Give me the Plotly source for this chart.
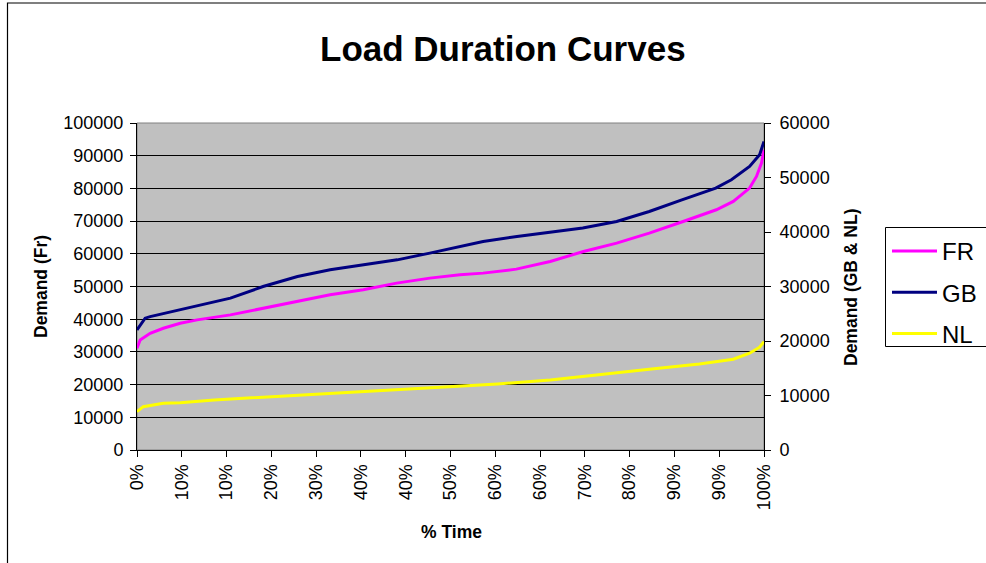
import plotly.graph_objects as go

# ---- data ----
tick_pos = [i * 100 / 14 for i in range(15)]
tick_labels = ["0%", "10%", "10%", "20%", "30%", "40%", "40%", "50%",
               "60%", "60%", "70%", "80%", "90%", "90%", "100%"]

fr_x = [0, 0.5, 2.1, 4.2, 6.9, 9.6, 14.9, 20.2, 25.5, 30.8, 36.1, 41.4, 46.7,
        51.5, 55.2, 60.5, 65.9, 71.2, 76.5, 81.7, 87.1, 92.4, 95.1, 97.7, 98.8, 99.6, 100]
fr_y = [31130, 33670, 35710, 37240, 38770, 39790, 41320, 43370, 45390, 47450, 48980,
        51030, 52560, 53570, 54090, 55310, 57640, 60700, 63270, 66330, 69890, 73460,
        76010, 80110, 83660, 87740, 91830]

gb_x = [0, 1.3, 2.1, 6.9, 12.2, 14.9, 20.1, 25.6, 30.8, 36.1, 41.5, 46.7, 51.5,
        55.2, 60.6, 65.8, 71.1, 76.5, 81.7, 86.9, 92.3, 94.8, 97.7, 99.3, 100]
gb_y = [22040, 24190, 24480, 25710, 27050, 27860, 29990, 31830, 33060, 33970, 34890,
        36120, 37340, 38250, 39170, 39910, 40720, 41930, 43760, 45910, 48060, 49590,
        52030, 54180, 56620]

nl_x = [0, 1.0, 4.2, 6.9, 12.3, 20.2, 28.2, 36.1, 44.1, 51.5, 57.5, 65.9, 73.8,
        81.7, 89.7, 95.1, 97.7, 99.3, 100]
nl_y = [7040, 7950, 8570, 8690, 9180, 9680, 10230, 10710, 11330, 11750, 12120,
        12860, 13770, 14810, 15790, 16650, 17750, 18860, 19890]

FONT = "Liberation Sans, Arial, sans-serif"

fig = go.Figure()
fig.add_trace(go.Scatter(x=fr_x, y=fr_y, name="FR", mode="lines",
                         line=dict(color="#FF00FF", width=3), legendgroup="a"))
fig.add_trace(go.Scatter(x=gb_x, y=gb_y, name="GB", mode="lines", yaxis="y2",
                         line=dict(color="#000080", width=3), legendgroup="b"))
fig.add_trace(go.Scatter(x=nl_x, y=nl_y, name="NL", mode="lines", yaxis="y2",
                         line=dict(color="#FFFF00", width=3), legendgroup="c"))

# plot area px: x 137..764, y 123..450
L, R, T, B = 137, 764, 123, 450
W, H = R - L, B - T
def px(x): return (x - L) / W
def py(y): return (B - y) / H

def ann(text, x, y, size, angle=0):
    return dict(text=text, xref="paper", yref="paper", x=px(x), y=py(y),
                xanchor="center", yanchor="middle", textangle=angle,
                showarrow=False, font=dict(size=size, family=FONT))

fig.update_layout(
    width=986, height=563,
    margin=dict(l=L, r=986 - R, t=T, b=563 - B, autoexpand=False),
    paper_bgcolor="white", plot_bgcolor="#C0C0C0",
    font=dict(family=FONT, size=18, color="black"),
    showlegend=True,
    legend=dict(x=px(887), y=py(229), xanchor="left", yanchor="top",
                bgcolor="rgba(0,0,0,0)", borderwidth=0,
                font=dict(size=24, family=FONT), traceorder="grouped",
                tracegroupgap=7, itemwidth=45),
    xaxis=dict(range=[0, 100], tickmode="array", tickvals=tick_pos, ticktext=tick_labels,
               tickangle=-90, ticks="outside", ticklen=6, tickcolor="black",
               showgrid=False, zeroline=False, showline=True, linecolor="black",
               linewidth=1, tickfont=dict(size=18)),
    yaxis=dict(range=[0, 100000], dtick=10000, tickformat="d", ticks="outside",
               ticklen=6, tickcolor="black", showgrid=True, gridcolor="black",
               gridwidth=1, zeroline=False, showline=True, linecolor="black",
               tickfont=dict(size=18), ticklabelstandoff=3),
    yaxis2=dict(range=[0, 60000], dtick=10000, tickformat="d", overlaying="y",
                side="right", ticks="outside", ticklen=6, tickcolor="black",
                showgrid=False, zeroline=False, showline=True, linecolor="black",
                tickfont=dict(size=18), ticklabelstandoff=5),
    shapes=[
        dict(type="rect", xref="paper", yref="paper", x0=0, x1=1, y0=0, y1=1,
             line=dict(color="#808080", width=1), layer="below"),
        dict(type="rect", xref="paper", yref="paper", x0=px(7.5), x1=px(1100),
             y0=py(700), y1=py(3), line=dict(color="black", width=1.2)),
        dict(type="rect", xref="paper", yref="paper", x0=px(885.5), x1=px(1100),
             y0=py(346.5), y1=py(227.5), line=dict(color="black", width=1),
             fillcolor="white", layer="above"),
    ],
    annotations=[
        ann("<b>Load Duration Curves</b>", 503, 49, 35),
        ann("<b>Demand (Fr)</b>", 41, 287, 17.5, -90),
        ann("<b>Demand (GB &amp; NL)</b>", 851, 287, 17.5, -90),
        ann("<b>% Time</b>", 451, 532, 17.5),
    ],
)

fig.write_html("out.html", config={"displayModeBar": False},
               post_script="document.body.style.margin='0';document.body.style.overflow='hidden';")
